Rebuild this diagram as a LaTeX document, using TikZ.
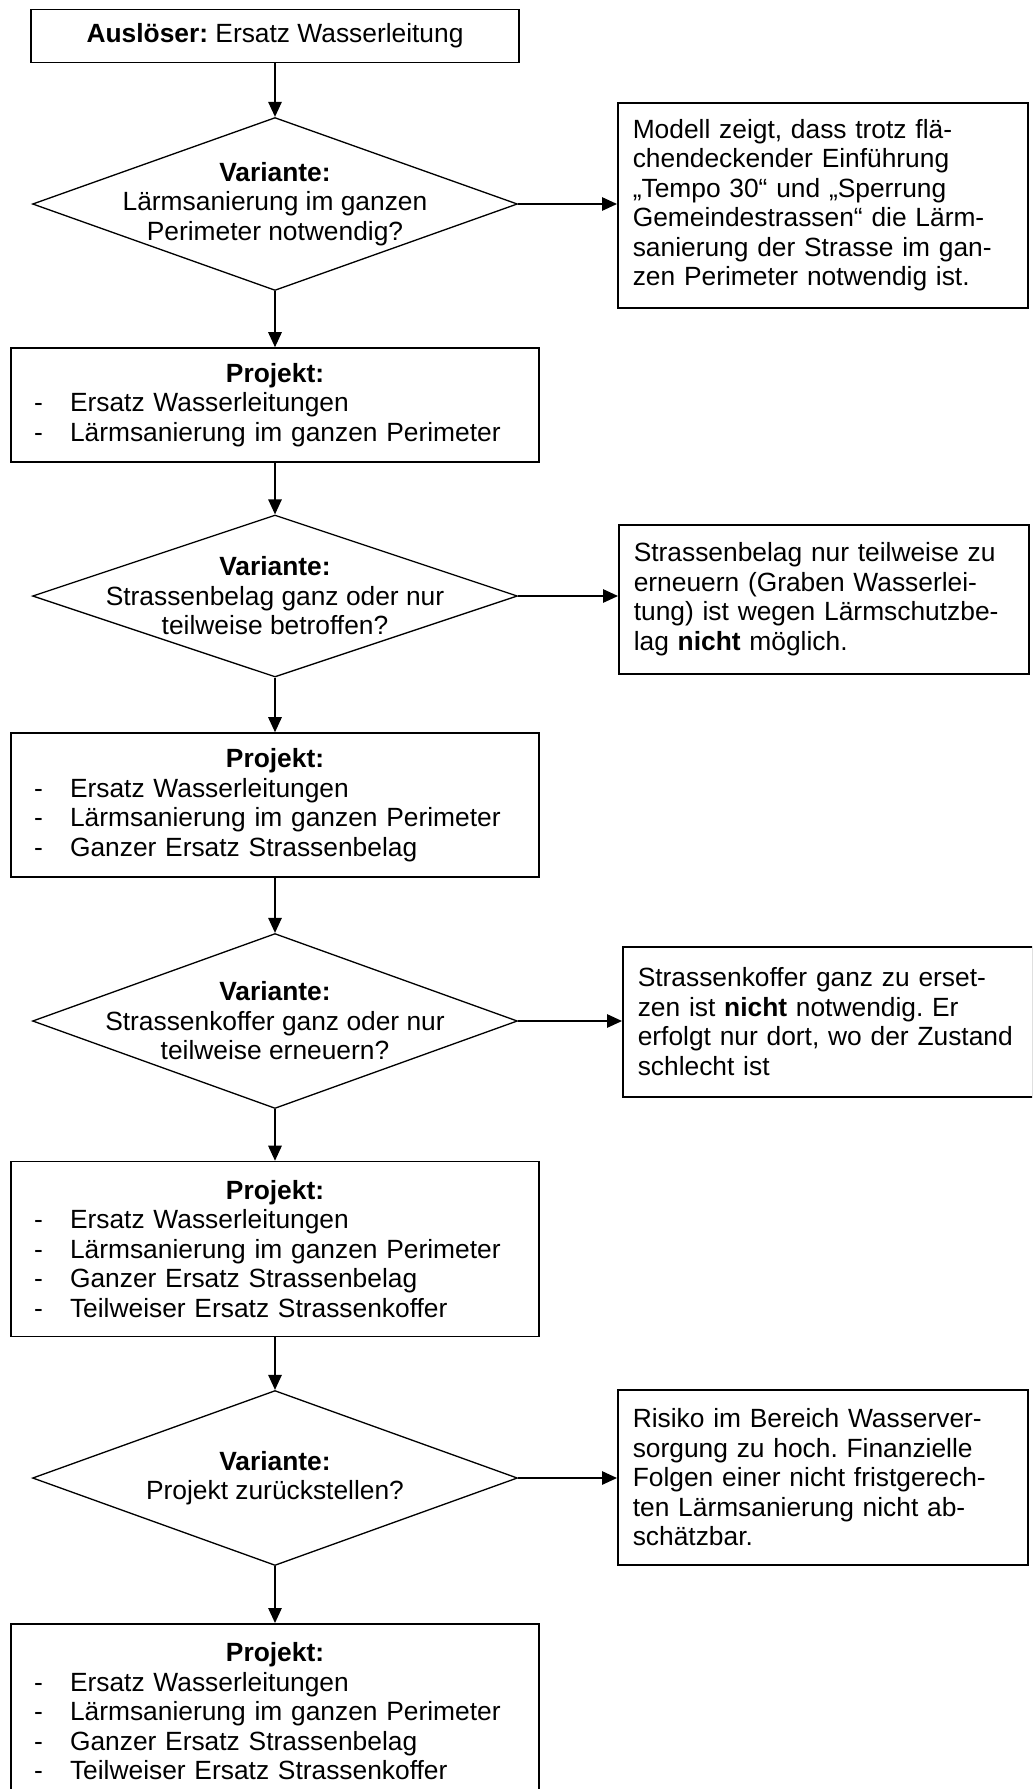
\documentclass[tikz,border=0pt]{standalone}
\usepackage{fontspec}
\setmainfont{Liberation Sans}
\usetikzlibrary{shapes}
\usetikzlibrary{arrows}
\usetikzlibrary{arrows.meta}
\frenchspacing

\newcommand{\projitem}[1]{\makebox[10.56cm][l]{\makebox[1.18cm][l]{\hspace*{0.46cm}-}#1}}

\begin{document}
\begin{tikzpicture}[x=0.02cm,y=-0.02cm]
	\tikzstyle{every node}=[font=\fontsize{15}{16.8}\selectfont]
	\tikzstyle{ausloeser}=[draw,line width=0.9pt,minimum width=9.76cm,minimum height=1.06cm,inner sep=0pt]
	\tikzstyle{variante}=[diamond,draw,line width=0.75pt,aspect=2.8,inner xsep=-1.4cm,inner ysep=0pt,minimum width=9.7cm,align=center]
	\tikzstyle{projekt}=[draw,line width=0.9pt,text width=10.56cm,inner xsep=0pt,align=center]
	\tikzstyle{hinweis}=[draw,line width=0.9pt,text width=7.6cm,inner xsep=0.3cm,align=left,anchor=north west]
	\tikzstyle{pfeil}=[line width=0.75pt,-{Triangle[length=0.3cm,width=0.27cm]}]
	\clip (0,0) rectangle (1032,1789);
	\node[ausloeser] (start) at (275,36) {\textbf{Auslöser:} Ersatz Wasserleitung};
	\node[variante,minimum height=3.46cm] (v1) at (275,204) {\textbf{Variante:}\\Lärmsanierung im ganzen\\Perimeter notwendig?};
	\node[hinweis,minimum height=4.1cm] (h1) at (617,102) {Modell zeigt, dass trotz flä-\\chendeckender Einführung\\„Tempo 30“ und „Sperrung\\Gemeindestrassen“ die Lärm-\\sanierung der Strasse im gan-\\zen Perimeter notwendig ist.};
	\node[projekt,minimum height=2.28cm] (p1) at (275,405) {\textbf{Projekt:}\\\projitem{Ersatz Wasserleitungen}\\\projitem{Lärmsanierung im ganzen Perimeter}};
	\node[variante,minimum height=3.24cm] (v2) at (275,596) {\textbf{Variante:}\\Strassenbelag ganz oder nur\\teilweise betroffen?};
	\node[hinweis,minimum height=2.98cm] (h2) at (618,524) {Strassenbelag nur teilweise zu\\erneuern (Graben Wasserlei-\\tung) ist wegen Lärmschutzbe-\\lag \textbf{nicht} möglich.};
	\node[projekt,minimum height=2.88cm] (p2) at (275,805) {\textbf{Projekt:}\\\projitem{Ersatz Wasserleitungen}\\\projitem{Lärmsanierung im ganzen Perimeter}\\\projitem{Ganzer Ersatz Strassenbelag}};
	\node[variante,minimum height=3.5cm] (v3) at (275,1021) {\textbf{Variante:}\\Strassenkoffer ganz oder nur\\teilweise erneuern?};
	\node[hinweis,minimum height=3cm] (h3) at (622,946) {Strassenkoffer ganz zu erset-\\zen ist \textbf{nicht} notwendig. Er\\erfolgt nur dort, wo der Zustand\\schlecht ist};
	\node[projekt,minimum height=3.5cm] (p3) at (275,1249) {\textbf{Projekt:}\\\projitem{Ersatz Wasserleitungen}\\\projitem{Lärmsanierung im ganzen Perimeter}\\\projitem{Ganzer Ersatz Strassenbelag}\\\projitem{Teilweiser Ersatz Strassenkoffer}};
	\node[variante,minimum height=3.5cm] (v4) at (275,1478) {\textbf{Variante:}\\Projekt zurückstellen?};
	\node[hinweis,minimum height=3.5cm] (h4) at (617,1389) {Risiko im Bereich Wasserver-\\sorgung zu hoch. Finanzielle\\Folgen einer nicht fristgerech-\\ten Lärmsanierung nicht ab-\\schätzbar.};
	\node[projekt,minimum height=3.5cm,anchor=north] (p4) at (275,1623) {\textbf{Projekt:}\\\projitem{Ersatz Wasserleitungen}\\\projitem{Lärmsanierung im ganzen Perimeter}\\\projitem{Ganzer Ersatz Strassenbelag}\\\projitem{Teilweiser Ersatz Strassenkoffer}};
	\draw[pfeil] (start) -- (v1);
	\draw[pfeil] (v1) -- (p1);
	\draw[pfeil] (p1) -- (v2);
	\draw[pfeil] (v2) -- (p2);
	\draw[pfeil] (p2) -- (v3);
	\draw[pfeil] (v3) -- (p3);
	\draw[pfeil] (p3) -- (v4);
	\draw[pfeil] (v4) -- (p4);
	\draw[pfeil] (v1.east) -- (v1.east -| h1.west);
	\draw[pfeil] (v2.east) -- (v2.east -| h2.west);
	\draw[pfeil] (v3.east) -- (v3.east -| h3.west);
	\draw[pfeil] (v4.east) -- (v4.east -| h4.west);
\end{tikzpicture}
\end{document}
